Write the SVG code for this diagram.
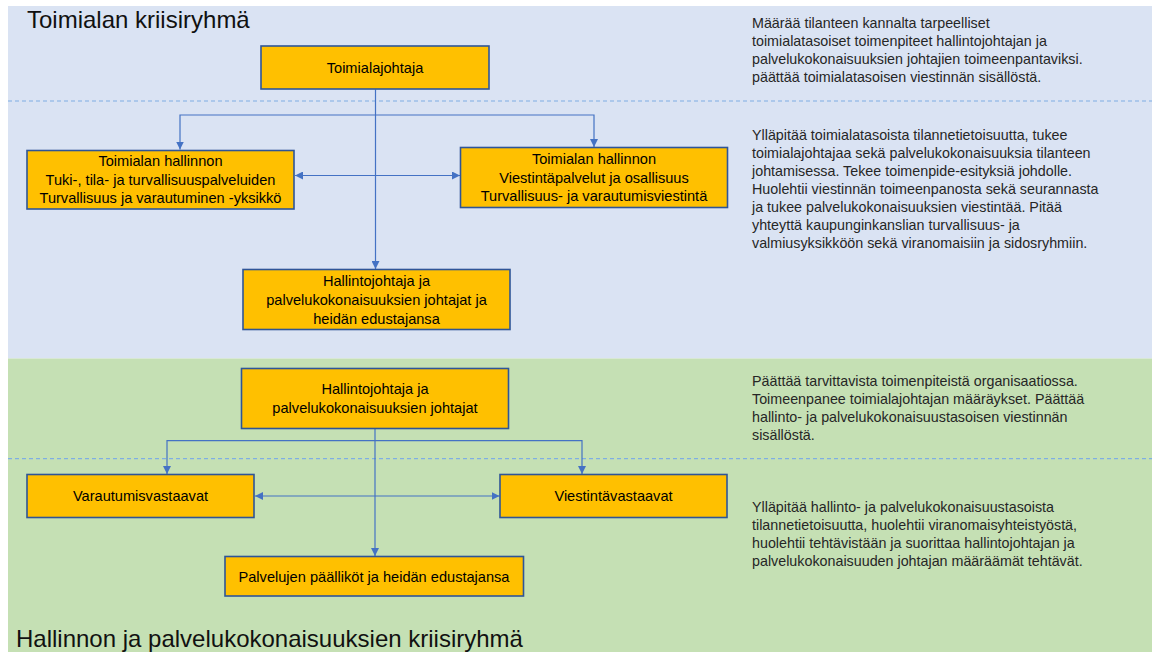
<svg xmlns="http://www.w3.org/2000/svg" width="1156" height="652" viewBox="0 0 1156 652">
<style>
.bx{fill:#FFC000;stroke:#2F5597;stroke-width:1.6}
.bt{font-family:"Liberation Sans",Arial,sans-serif;font-size:14.6px;fill:#000;text-anchor:middle}
.rt{font-family:"Liberation Sans",Arial,sans-serif;font-size:14.3px;fill:#262626}
.tt{font-family:"Liberation Sans",Arial,sans-serif;font-size:24px;fill:#111}
.cn{fill:none;stroke:#4472C4;stroke-width:1.2}
.dl{stroke:#7FAEE3;stroke-width:1.2;stroke-dasharray:4 3}
</style>
<defs>
<marker id="ah" viewBox="0 0 10 10" refX="10" refY="5" markerWidth="8" markerHeight="8" markerUnits="userSpaceOnUse" orient="auto-start-reverse">
<path d="M0,0 L10,5 L0,10 z" fill="#4472C4"/>
</marker>
</defs>
<g id="panels">
<rect x="8" y="6" width="1144" height="352.5" fill="#DAE3F3"/>
<rect x="8" y="358.5" width="1144" height="293.5" fill="#C5E0B4"/>
<line class="dl" x1="8" y1="101" x2="1152" y2="101"/>
<line class="dl" x1="8" y1="458.7" x2="1152" y2="458.7"/>
<text class="tt" x="27" y="28">Toimialan kriisiryhmä</text>
<text class="tt" x="16" y="647">Hallinnon ja palvelukokonaisuuksien kriisiryhmä</text>
</g>
<g id="connectors">
<path class="cn" d="M375.5 89.5 V269" marker-end="url(#ah)"/>
<path class="cn" d="M375.5 115 H180 V149.5" marker-end="url(#ah)"/>
<path class="cn" d="M375.5 115 H594 V147" marker-end="url(#ah)"/>
<path class="cn" d="M295 175.5 H460" marker-start="url(#ah)" marker-end="url(#ah)"/>
<path class="cn" d="M375 428.5 V556" marker-end="url(#ah)"/>
<path class="cn" d="M375 440.7 H167 V474" marker-end="url(#ah)"/>
<path class="cn" d="M375 440.7 H582 V474" marker-end="url(#ah)"/>
<path class="cn" d="M255 496 H499.5" marker-start="url(#ah)" marker-end="url(#ah)"/>
</g>
<g id="n1">
<rect class="bx" x="261" y="46" width="228" height="43"/>
<text class="bt" x="375" y="72.5">Toimialajohtaja</text>
</g>
<g id="n2">
<rect class="bx" x="27" y="150.5" width="267" height="58.5"/>
<text class="bt" x="160.5" y="166">Toimialan hallinnon</text>
<text class="bt" x="160.5" y="184.5">Tuki-, tila- ja turvallisuuspalveluiden</text>
<text class="bt" x="160.5" y="203">Turvallisuus ja varautuminen -yksikkö</text>
</g>
<g id="n3">
<rect class="bx" x="460.5" y="147.5" width="267" height="60"/>
<text class="bt" x="594" y="163.5">Toimialan hallinnon</text>
<text class="bt" x="594" y="182.5">Viestintäpalvelut ja osallisuus</text>
<text class="bt" x="594" y="201">Turvallisuus- ja varautumisviestintä</text>
</g>
<g id="n4">
<rect class="bx" x="243" y="269.5" width="267" height="60"/>
<text class="bt" x="376.5" y="286">Hallintojohtaja ja</text>
<text class="bt" x="376.5" y="305">palvelukokonaisuuksien johtajat ja</text>
<text class="bt" x="376.5" y="323.5">heidän edustajansa</text>
</g>
<g id="n5">
<rect class="bx" x="241.5" y="368.5" width="267" height="60"/>
<text class="bt" x="375" y="394">Hallintojohtaja ja</text>
<text class="bt" x="375" y="413">palvelukokonaisuuksien johtajat</text>
</g>
<g id="n6">
<rect class="bx" x="27" y="474.5" width="227" height="43"/>
<text class="bt" x="140.5" y="501">Varautumisvastaavat</text>
</g>
<g id="n7">
<rect class="bx" x="500" y="474.5" width="227" height="43"/>
<text class="bt" x="613.5" y="501">Viestintävastaavat</text>
</g>
<g id="n8">
<rect class="bx" x="225" y="556.5" width="298.5" height="39.5"/>
<text class="bt" x="374" y="582">Palvelujen päälliköt ja heidän edustajansa</text>
</g>
<g id="notes">
<text class="rt" x="752" y="28">Määrää tilanteen kannalta tarpeelliset</text>
<text class="rt" x="752" y="46">toimialatasoiset toimenpiteet hallintojohtajan ja</text>
<text class="rt" x="752" y="64">palvelukokonaisuuksien johtajien toimeenpantaviksi.</text>
<text class="rt" x="752" y="82">päättää toimialatasoisen viestinnän sisällöstä.</text>
<text class="rt" x="752" y="139.5">Ylläpitää toimialatasoista tilannetietoisuutta, tukee</text>
<text class="rt" x="752" y="157.5">toimialajohtajaa sekä palvelukokonaisuuksia tilanteen</text>
<text class="rt" x="752" y="175.5">johtamisessa. Tekee toimenpide-esityksiä johdolle.</text>
<text class="rt" x="752" y="193.5">Huolehtii viestinnän toimeenpanosta sekä seurannasta</text>
<text class="rt" x="752" y="211.5">ja tukee palvelukokonaisuuksien viestintää. Pitää</text>
<text class="rt" x="752" y="229.5">yhteyttä kaupunginkanslian turvallisuus- ja</text>
<text class="rt" x="752" y="247.5">valmiusyksikköön sekä viranomaisiin ja sidosryhmiin.</text>
<text class="rt" x="752" y="385.5">Päättää tarvittavista toimenpiteistä organisaatiossa.</text>
<text class="rt" x="752" y="403.5">Toimeenpanee toimialajohtajan määräykset. Päättää</text>
<text class="rt" x="752" y="421.5">hallinto- ja palvelukokonaisuustasoisen viestinnän</text>
<text class="rt" x="752" y="439.5">sisällöstä.</text>
<text class="rt" x="752" y="512">Ylläpitää hallinto- ja palvelukokonaisuustasoista</text>
<text class="rt" x="752" y="530">tilannetietoisuutta, huolehtii viranomaisyhteistyöstä,</text>
<text class="rt" x="752" y="548">huolehtii tehtävistään ja suorittaa hallintojohtajan ja</text>
<text class="rt" x="752" y="566">palvelukokonaisuuden johtajan määräämät tehtävät.</text>
</g>
</svg>
